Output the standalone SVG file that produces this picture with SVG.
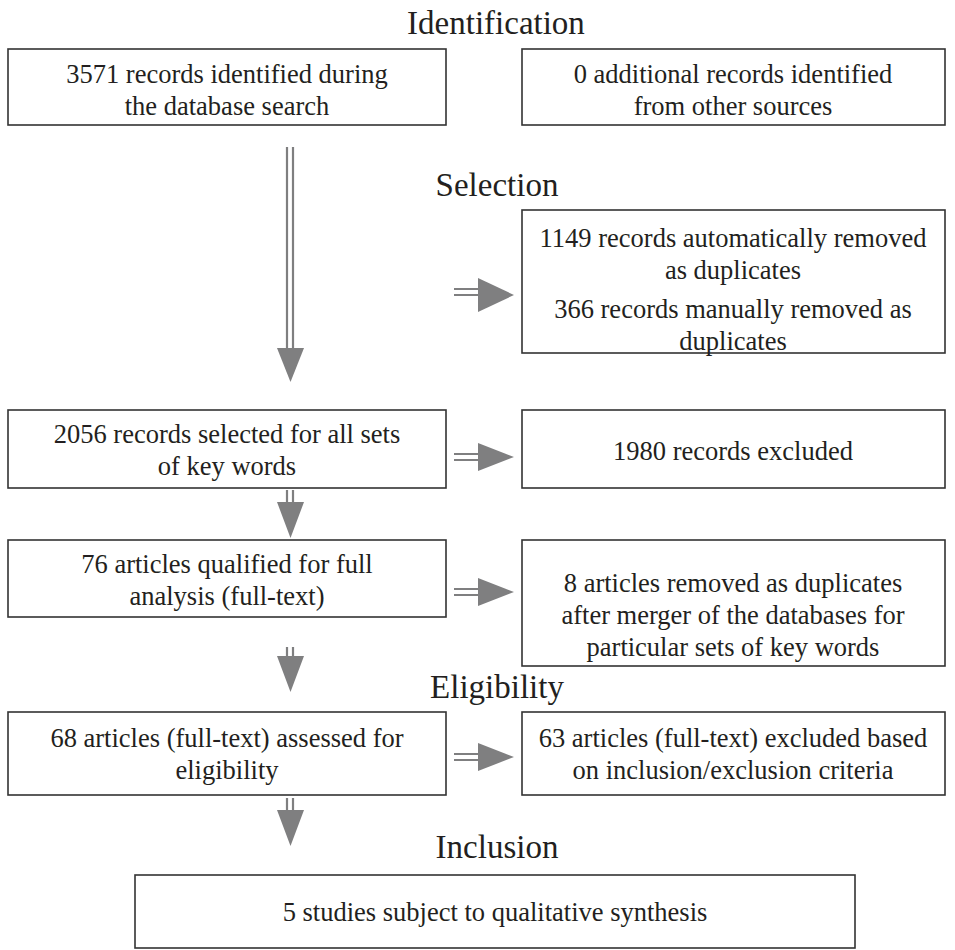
<svg xmlns="http://www.w3.org/2000/svg" width="955" height="950" viewBox="0 0 955 950">
<style>
.box{fill:#fff;stroke:#333;stroke-width:1.6}
.t{font-family:"Liberation Serif","Times New Roman",serif;font-size:26.5px;fill:#231f20;text-anchor:middle}
.h{font-family:"Liberation Serif","Times New Roman",serif;font-size:33px;fill:#231f20;text-anchor:middle}
.sh{stroke:#7f7f80;stroke-width:2.2;fill:none}
.hd{fill:#7f7f80}
</style>
<rect width="955" height="950" fill="#fff"/>
<text class="h" x="496" y="34">Identification</text>
<text class="h" x="497" y="196">Selection</text>
<text class="h" x="497" y="698">Eligibility</text>
<text class="h" x="497" y="858">Inclusion</text>
<g id="n1"><rect class="box" x="8" y="49" width="438" height="76"/><text class="t" x="227" y="83">3571 records identified during</text><text class="t" x="227" y="115">the database search</text></g>
<g id="n2"><rect class="box" x="522" y="49" width="423" height="76"/><text class="t" x="733" y="83">0 additional records identified</text><text class="t" x="733" y="115">from other sources</text></g>
<g id="n3"><rect class="box" x="522" y="210" width="423" height="143"/><text class="t" x="733" y="247">1149 records automatically removed</text><text class="t" x="733" y="279">as duplicates</text><text class="t" x="733" y="318">366 records manually removed as</text><text class="t" x="733" y="350">duplicates</text></g>
<g id="n4"><rect class="box" x="8" y="410" width="438" height="78"/><text class="t" x="227" y="443">2056 records selected for all sets</text><text class="t" x="227" y="475">of key words</text></g>
<g id="n5"><rect class="box" x="522" y="410" width="423" height="78"/><text class="t" x="733" y="460">1980 records excluded</text></g>
<g id="n6"><rect class="box" x="8" y="540" width="438" height="77"/><text class="t" x="227" y="573">76 articles qualified for full</text><text class="t" x="227" y="605">analysis (full-text)</text></g>
<g id="n7"><rect class="box" x="522" y="540" width="423" height="126"/><text class="t" x="733" y="592">8 articles removed as duplicates</text><text class="t" x="733" y="624">after merger of the databases for</text><text class="t" x="733" y="656">particular sets of key words</text></g>
<g id="n8"><rect class="box" x="8" y="712" width="438" height="83"/><text class="t" x="227" y="747">68 articles (full-text) assessed for</text><text class="t" x="227" y="779">eligibility</text></g>
<g id="n9"><rect class="box" x="522" y="712" width="423" height="83"/><text class="t" x="733" y="747">63 articles (full-text) excluded based</text><text class="t" x="733" y="779">on inclusion/exclusion criteria</text></g>
<g id="n10"><rect class="box" x="135" y="875" width="720" height="73"/><text class="t" x="495" y="921">5 studies subject to qualitative synthesis</text></g>
<g id="connectors">
<path class="sh" d="M287 147V350M293 147V350"/><path class="hd" d="M277 348H304L290.5 382Z"/>
<path class="sh" d="M454 289H480M454 295H480"/><path class="hd" d="M478 278V312L514 295Z"/>
<path class="sh" d="M454 454H480M454 460H480"/><path class="hd" d="M478 443V471L514 457Z"/>
<path class="sh" d="M287 490V504M293 490V504"/><path class="hd" d="M277 502H304L290.5 538Z"/>
<path class="sh" d="M454 589H480M454 595H480"/><path class="hd" d="M478 578V606L514 592Z"/>
<path class="sh" d="M287 647V658M293 647V658"/><path class="hd" d="M277 656H304L290.5 692Z"/>
<path class="sh" d="M454 754H480M454 760H480"/><path class="hd" d="M478 743V771L514 757Z"/>
<path class="sh" d="M287 798V812M293 798V812"/><path class="hd" d="M277 810H304L290.5 846Z"/>
</g>
</svg>
